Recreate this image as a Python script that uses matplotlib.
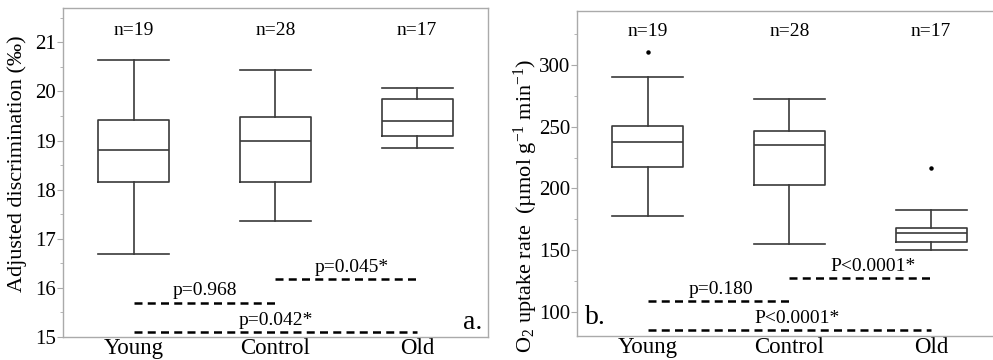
import matplotlib
matplotlib.use("Agg")
import matplotlib.pyplot as plt

plt.rcParams['font.family'] = ['Liberation Serif', 'DejaVu Serif']
plt.rcParams['mathtext.fontset'] = 'custom'
plt.rcParams['mathtext.rm'] = 'Liberation Serif'
plt.rcParams['mathtext.it'] = 'Liberation Serif:italic'

# dados
grupos = ["Young", "Control", "Old"]
n_amostras = [19, 28, 17]

# painel a - discriminacao ajustada (whislo, q1, med, q3, whishi)
disc_whislo = [16.68, 17.37, 18.84]
disc_q1 = [18.15, 18.15, 19.10]
disc_med = [18.80, 18.99, 19.40]
disc_q3 = [19.41, 19.49, 19.85]
disc_whishi = [20.65, 20.44, 20.08]
disc_fliers = [[], [], []]
disc_pares = [(1, 2), (2, 3), (1, 3)]
disc_p_y = [15.70, 16.18, 15.10]
disc_p_txt = ["p=0.968", "p=0.045*", "p=0.042*"]

# painel b - taxa de consumo de O2
o2_whislo = [177.8, 154.6, 150.3]
o2_q1 = [217.0, 203.0, 156.5]
o2_med = [237.3, 235.4, 163.8]
o2_q3 = [250.8, 246.2, 167.9]
o2_whishi = [290.5, 272.7, 182.7]
o2_fliers = [[310.3], [], [216.2]]
o2_pares = [(1, 2), (2, 3), (1, 3)]
o2_p_y = [108.5, 127.1, 85.5]
o2_p_txt = ["p=0.180", "P<0.0001*", "P<0.0001*"]

cinza = "#aaaaaa"
linha = "#3a3a3a"
fs = 14


def desenha(ax, whislo, q1, med, q3, whishi, fliers, pares, p_y, p_txt, n_y, txt_off, txt_dx):
    stats = []
    for i in range(3):
        stats.append(dict(whislo=whislo[i], q1=q1[i], med=med[i], q3=q3[i],
                          whishi=whishi[i], fliers=fliers[i]))
    ax.bxp(stats, positions=[1, 2, 3], widths=0.5, showfliers=True,
           boxprops=dict(color=linha, linewidth=1.2),
           whiskerprops=dict(color=linha, linewidth=1.2),
           capprops=dict(color=linha, linewidth=1.2),
           medianprops=dict(color=linha, linewidth=1.2),
           flierprops=dict(marker='o', markersize=2.2, markerfacecolor='black',
                           markeredgecolor='black'),
           capwidths=0.5)
    for i, (a, b) in enumerate(pares):
        ax.plot([a, b], [p_y[i], p_y[i]], color='black', linewidth=1.8,
                dashes=(3.2, 2.1))
        ax.text((a + b) / 2 + txt_dx[i], p_y[i] + txt_off, p_txt[i],
                ha='center', va='bottom', fontsize=fs)
    for i in range(3):
        ax.text(i + 1, n_y, "n=%d" % n_amostras[i], ha='center', va='center', fontsize=fs)
    ax.set_xticks([1, 2, 3])
    ax.set_xticklabels(grupos, fontsize=16.5)
    ax.tick_params(axis='x', length=0, pad=1)
    ax.tick_params(axis='y', which='major', length=4, color=cinza, labelsize=15, pad=1)
    ax.tick_params(axis='y', which='minor', length=2.5, color=cinza)
    for s in ax.spines.values():
        s.set_color(cinza)
        s.set_linewidth(1.0)


fig = plt.figure(figsize=(9.93, 3.6), dpi=100)

# painel a
ax1 = fig.add_axes([0.0634, 0.0639, 0.428, 0.9139])
desenha(ax1, disc_whislo, disc_q1, disc_med, disc_q3, disc_whishi, disc_fliers,
        disc_pares, disc_p_y, disc_p_txt, 21.25, 0.07, [0.0, 0.04, 0.0])
ax1.set_xlim(0.5, 3.5)
ax1.set_ylim(15, 21.7)
ax1.set_yticks([15, 16, 17, 18, 19, 20, 21])
ax1.set_yticks([15.5, 16.5, 17.5, 18.5, 19.5, 20.5, 21.5], minor=True)
ax1.set_ylabel("Adjusted discrimination (‰)", fontsize=16)
ax1.yaxis.set_label_coords(-0.085, 0.527)
ax1.text(3.39, 15.3, "a.", fontsize=20, ha='center', va='center')

# painel b
ax2 = fig.add_axes([0.581, 0.068, 0.428, 0.901])
desenha(ax2, o2_whislo, o2_q1, o2_med, o2_q3, o2_whishi, o2_fliers,
        o2_pares, o2_p_y, o2_p_txt, 327, 2.5, [0.02, 0.09, 0.05])
ax2.set_xlim(0.5, 3.5)
ax2.set_ylim(80.7, 343.8)
ax2.set_yticks([100, 150, 200, 250, 300])
ax2.set_yticks([125, 175, 225, 275, 325], minor=True)
ax2.set_ylabel("O$_2$ uptake rate  (µmol g$^{-1}$ min$^{-1}$)", fontsize=16)
ax2.yaxis.set_label_coords(-0.087, 0.40)
ax2.text(0.63, 95, "b.", fontsize=20, ha='center', va='center')

fig.savefig("out.png", dpi=100)
